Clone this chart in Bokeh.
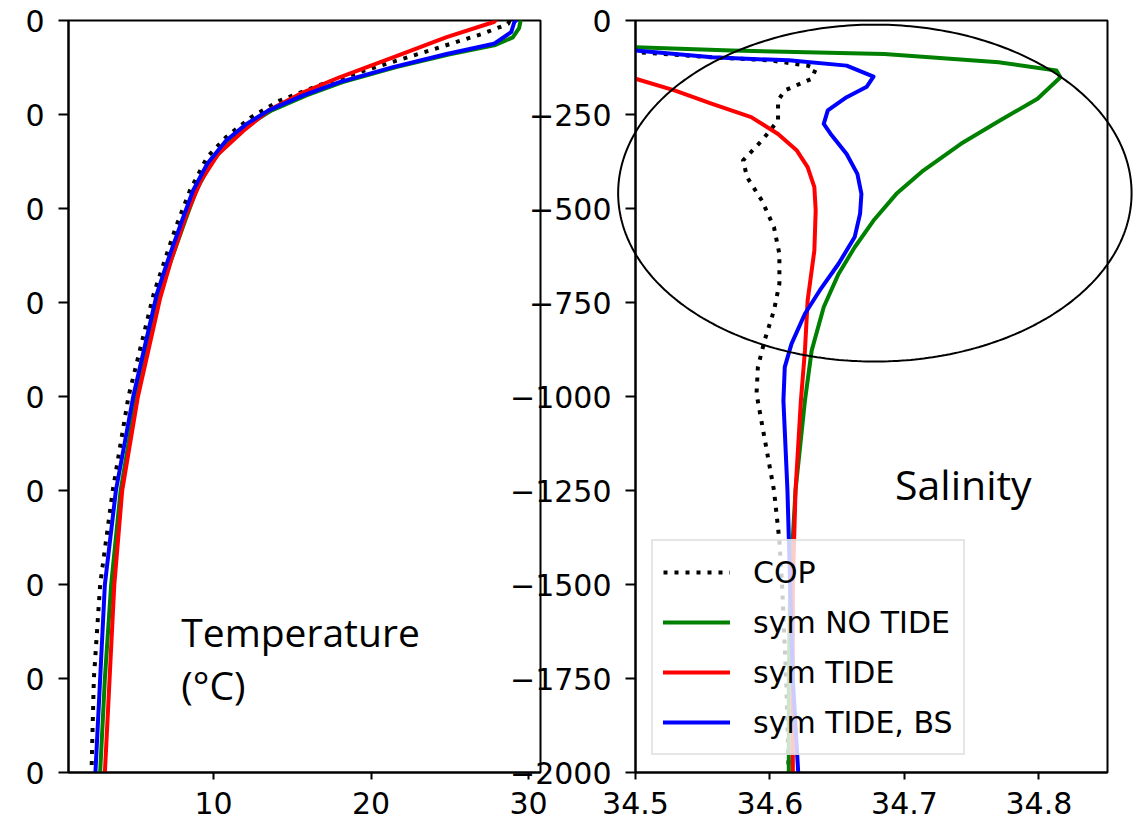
import numpy as np
from bokeh.plotting import figure
from bokeh.layouts import row
from bokeh.models import (Range1d, FixedTicker, Legend, LegendItem, Label)
from bokeh.embed import file_html
from bokeh.resources import INLINE

# ---------------- data ----------------
TEMP_COP_DEPTH = [0, 9, 35, 80, 124, 169, 213, 257, 310, 363, 452, 550, 638,
                  727, 1000, 1250, 1500, 1750, 2000]
TEMP_COP = [28.8, 28.7, 27.1, 23.7, 20.3, 16.9, 14.2, 12.4, 10.8, 9.6, 8.5,
            7.6, 6.9, 6.2, 4.6, 3.6, 2.8, 2.4, 2.25]

TEMP_NOTIDE_DEPTH = [0, 20, 45, 65, 90, 124, 164, 199, 239, 275, 319, 381,
                     452, 532, 638, 727, 1000, 1250, 1500, 1750, 2000]
TEMP_NOTIDE = [29.5, 29.4, 29.0, 27.9, 25.0, 21.6, 18.2, 15.9, 13.7, 12.3,
               11.0, 9.8, 8.9, 8.2, 7.3, 6.6, 5.1, 4.1, 3.5, 3.1, 2.8]

TEMP_TIDE_DEPTH = [0, 4, 44, 98, 151, 191, 239, 293, 355, 426, 514, 638, 740,
                   1000, 1250, 1500, 1750, 2000]
TEMP_TIDE = [27.9, 27.8, 24.8, 21.4, 18.0, 15.7, 13.5, 11.9, 10.3, 9.2, 8.3,
             7.3, 6.6, 5.2, 4.2, 3.7, 3.4, 3.1]

TEMP_TIDE_BS_DEPTH = [0, 4, 31, 62, 89, 124, 164, 199, 239, 275, 319, 381,
                      452, 532, 638, 727, 1000, 1250, 1500, 1750, 2000]
TEMP_TIDE_BS = [29.2, 29.1, 28.9, 27.8, 24.8, 21.4, 18.0, 15.7, 13.5, 12.1,
                10.8, 9.6, 8.7, 8.0, 7.1, 6.4, 4.9, 3.8, 3.1, 2.8, 2.5]

SAL_COP_DEPTH = [0, 60, 84, 98, 106, 120, 129, 155, 186, 213, 266, 319, 372,
                 417, 479, 550, 621, 700, 771, 851, 922, 993, 1250, 1383,
                 1500, 1750, 2000]
SAL_COP = [33.9, 34.2, 34.5, 34.557, 34.600, 34.628, 34.634, 34.631, 34.611,
           34.606, 34.606, 34.594, 34.580, 34.583, 34.594, 34.603, 34.607,
           34.607, 34.603, 34.596, 34.591, 34.590, 34.603, 34.607, 34.609,
           34.612, 34.614]

SAL_NOTIDE_DEPTH = [0, 50, 71, 80, 89, 111, 133, 151, 208, 266, 328, 399,
                    461, 532, 603, 674, 762, 878, 1011, 1250, 1500, 1750, 2000]
SAL_NOTIDE = [33.9, 34.2, 34.5, 34.5715, 34.685, 34.77, 34.813, 34.816,
              34.799, 34.771, 34.742, 34.714, 34.694, 34.677, 34.663, 34.651,
              34.640, 34.631, 34.626, 34.619, 34.615, 34.614, 34.614]

SAL_TIDE_DEPTH = [0, 100, 155, 186, 222, 257, 302, 346, 390, 443, 505, 612,
                  745, 878, 1011, 1250, 1500, 1750, 2000]
SAL_TIDE = [34.0, 34.3, 34.5, 34.529, 34.557, 34.586, 34.606, 34.620, 34.628,
            34.633, 34.634, 34.633, 34.628, 34.626, 34.623, 34.619, 34.617,
            34.617, 34.617]

SAL_TIDE_BS_DEPTH = [0, 50, 80, 98, 106, 120, 149, 176, 204, 239, 275, 301,
                     355, 408, 461, 514, 576, 647, 718, 780, 860, 922, 1011,
                     1250, 1500, 1750, 2000]
SAL_TIDE_BS = [33.9, 34.2, 34.5, 34.557, 34.614, 34.657, 34.677, 34.672,
               34.657, 34.643, 34.640, 34.645, 34.657, 34.665, 34.668, 34.667,
               34.663, 34.651, 34.637, 34.626, 34.616, 34.611, 34.610, 34.613,
               34.615, 34.617, 34.621]

SERIES_LABELS = ["COP", "sym NO TIDE", "sym TIDE", "sym TIDE, BS"]
Y_TICKS = [0, -250, -500, -750, -1000, -1250, -1500, -1750, -2000]
T_TICKS = [10, 20, 30]
S_TICKS = [34.5, 34.6, 34.7, 34.8]

# ellipse highlighting the upper salinity range (centre / semi-axes)
ELL_CENTER = (34.678, -459)
ELL_SEMI = (0.1909, 448)

# ---------------- styling / geometry ----------------
COLORS = ["black", "green", "red", "blue"]
DASHES = ["4 7", "solid", "solid", "solid"]
LW = 4
TICK_FONT = "DejaVu Sans"
TICK_SIZE = "30px"
NOTE_FONT = "Open Sans"

H = 826
FRAME_TOP, FRAME_BOTTOM = 20, 772
T_RANGE = (0.79, 30.76)
S_RANGE = (34.5, 34.851)
Y_RANGE = (-2000, 0)
P2_LEFT, P2_FRAME_L, P2_FRAME_R, P2_RIGHT = 500, 635, 1107, 1139
P3_LEFT = 580


def neg(v):
    return [-d for d in v]


def style_axes(p):
    p.outline_line_color = "black"
    p.outline_line_width = 2
    p.grid.visible = False
    for ax in (p.xaxis[0], p.yaxis[0]):
        ax.axis_line_color = "black"
        ax.axis_line_width = 2
        ax.major_tick_line_color = "black"
        ax.major_tick_line_width = 2
        ax.major_tick_out = 10
        ax.major_tick_in = 0
        ax.minor_tick_out = 0
        ax.minor_tick_in = 0
        ax.major_label_text_font = TICK_FONT
        ax.major_label_text_font_size = TICK_SIZE
        ax.major_label_text_color = "black"
    p.xaxis[0].major_tick_out = 7
    p.xaxis[0].major_label_standoff = 12
    p.yaxis[0].major_label_standoff = 14


def add_line(p, xs, depth, color, dash):
    return p.line(xs, neg(depth), line_color=color, line_width=LW,
                  line_dash=dash,
                  line_cap="butt" if dash != "solid" else "round",
                  line_join="round")


# ---------------- left: temperature ----------------
p1 = figure(width=568, height=H, output_backend="svg", toolbar_location=None,
            title=None, x_range=Range1d(*T_RANGE), y_range=Range1d(*Y_RANGE),
            min_border_left=68, min_border_right=28,
            min_border_top=FRAME_TOP, min_border_bottom=H - FRAME_BOTTOM)
p1.background_fill_color = "white"
p1.border_fill_color = "white"
style_axes(p1)
p1.xaxis[0].ticker = FixedTicker(ticks=T_TICKS, minor_ticks=[])
p1.yaxis[0].ticker = FixedTicker(ticks=Y_TICKS, minor_ticks=[])
# left tick labels are cut off in the original: only the trailing "0" shows
p1.yaxis[0].major_label_overrides = {t: "0" for t in Y_TICKS}
p1.xaxis[0].major_label_overrides = {t: str(t) for t in T_TICKS}

temps = [(TEMP_COP, TEMP_COP_DEPTH), (TEMP_NOTIDE, TEMP_NOTIDE_DEPTH),
         (TEMP_TIDE, TEMP_TIDE_DEPTH), (TEMP_TIDE_BS, TEMP_TIDE_BS_DEPTH)]
for (vals, dep), c, d in zip(temps, COLORS, DASHES):
    add_line(p1, vals, dep, c, d)

p1.add_layout(Label(x=7.95, y=-1626, text="Temperature", text_font=NOTE_FONT,
                    text_font_size="39px", text_color="black",
                    text_baseline="alphabetic"))
p1.add_layout(Label(x=7.95, y=-1766, text="(°C)", text_font=NOTE_FONT,
                    text_font_size="39px", text_color="black",
                    text_baseline="alphabetic"))

# ---------------- right: salinity ----------------
p2 = figure(width=P2_RIGHT - P2_LEFT, height=H, output_backend="svg",
            toolbar_location=None, title=None,
            x_range=Range1d(*S_RANGE), y_range=Range1d(*Y_RANGE),
            min_border_left=P2_FRAME_L - P2_LEFT,
            min_border_right=P2_RIGHT - P2_FRAME_R,
            min_border_top=FRAME_TOP, min_border_bottom=H - FRAME_BOTTOM,
            margin=(0, 0, 0, P2_LEFT - 568))
p2.background_fill_color = "white"
p2.border_fill_alpha = 0
style_axes(p2)
p2.xaxis[0].ticker = FixedTicker(ticks=S_TICKS, minor_ticks=[])
p2.yaxis[0].ticker = FixedTicker(ticks=Y_TICKS, minor_ticks=[])
p2.yaxis[0].major_label_overrides = {
    t: ("0" if t == 0 else "\u2212" + str(-t)) for t in Y_TICKS}
p2.xaxis[0].major_label_overrides = {t: f"{t:.1f}" for t in S_TICKS}

sals = [(SAL_COP, SAL_COP_DEPTH), (SAL_NOTIDE, SAL_NOTIDE_DEPTH),
        (SAL_TIDE, SAL_TIDE_DEPTH), (SAL_TIDE_BS, SAL_TIDE_BS_DEPTH)]
rends = [add_line(p2, vals, dep, c, d)
         for (vals, dep), c, d in zip(sals, COLORS, DASHES)]

p2.add_layout(Label(x=34.693, y=-1234, text="Salinity", text_font=NOTE_FONT,
                    text_font_size="41px", text_color="black",
                    text_baseline="alphabetic"))

legend = Legend(items=[LegendItem(label=l, renderers=[r])
                       for l, r in zip(SERIES_LABELS, rends)],
                location=(16, 17), margin=0, padding=10, spacing=8,
                label_height=42, glyph_height=42, glyph_width=67,
                label_standoff=23, label_text_font=TICK_FONT,
                label_text_font_size=TICK_SIZE, label_text_color="black",
                border_line_color="#cccccc", border_line_width=2,
                background_fill_alpha=0.8)
p2.add_layout(legend)

# ---------------- transparent overlay for the ellipse ----------------
# (the ellipse runs past the salinity frame, so it is drawn on an overlay
#  whose frame shares the salinity panel's vertical extent and x scale)
sx = (P2_FRAME_R - P2_FRAME_L) / (S_RANGE[1] - S_RANGE[0])
P3_W = P2_RIGHT - P3_LEFT
p3_x = (S_RANGE[0] + (P3_LEFT - P2_FRAME_L) / sx,
        S_RANGE[0] + (P2_RIGHT - P2_FRAME_L) / sx)
p3 = figure(width=P3_W, height=H, output_backend="svg", toolbar_location=None,
            title=None, x_range=Range1d(*p3_x), y_range=Range1d(*Y_RANGE),
            x_axis_type=None, y_axis_type=None,
            min_border_left=0, min_border_right=0,
            min_border_top=FRAME_TOP, min_border_bottom=H - FRAME_BOTTOM,
            margin=(0, 0, 0, -P3_W))
p3.outline_line_color = None
p3.grid.visible = False
p3.background_fill_alpha = 0
p3.border_fill_alpha = 0
theta = np.linspace(0, 2 * np.pi, 361)
p3.line(ELL_CENTER[0] + ELL_SEMI[0] * np.cos(theta),
        ELL_CENTER[1] + ELL_SEMI[1] * np.sin(theta),
        line_color="black", line_width=2)

layout = row(p1, p2, p3)
open("out.html", "w").write(file_html(layout, INLINE))
